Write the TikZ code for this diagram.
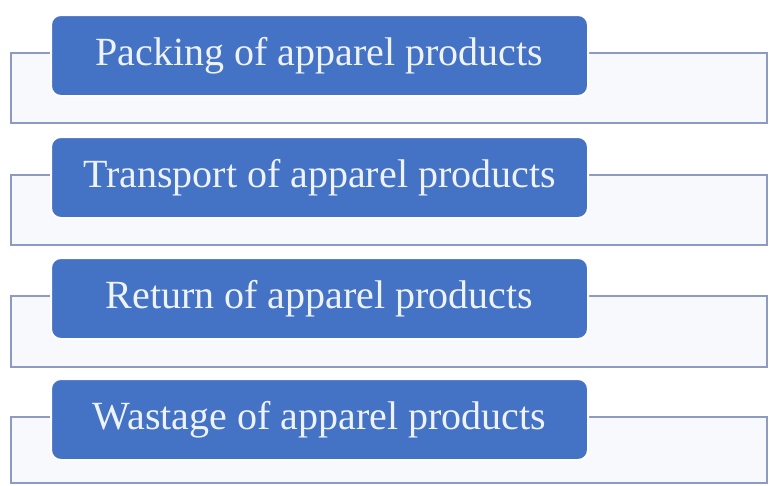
\documentclass[tikz,border=0pt]{standalone}
\usepackage{fontspec}
\setmainfont{Liberation Serif}
\definecolor{boxblue}{HTML}{4472C4}
\definecolor{bgfill}{HTML}{F8F9FD}
\definecolor{bgline}{HTML}{8C9AC4}
\definecolor{txt}{HTML}{EEF3FB}
\tikzset{
  backbar/.style={draw=bgline, line width=2pt, fill=bgfill},
  titlebox/.style={draw=white, line width=2pt, fill=boxblue, rounded corners=10pt,
    minimum width=537pt, minimum height=81pt, inner sep=0pt, text=txt,
    font=\fontsize{40}{46}\selectfont},
}
\begin{document}
\begin{tikzpicture}[x=1pt,y=-1pt]
\useasboundingbox (0,0) rectangle (769,485);
\foreach \yy/\bb/\t in {14/123/Packing of apparel products,136/245/Transport of apparel products,257/367/Return of apparel products,378/483/Wastage of apparel products}{
  \path[backbar] (11,\yy+39) rectangle (767,\bb);
  \node[titlebox, anchor=north west] (box\yy) at (50,\yy) {\t};
}
\end{tikzpicture}
\end{document}
